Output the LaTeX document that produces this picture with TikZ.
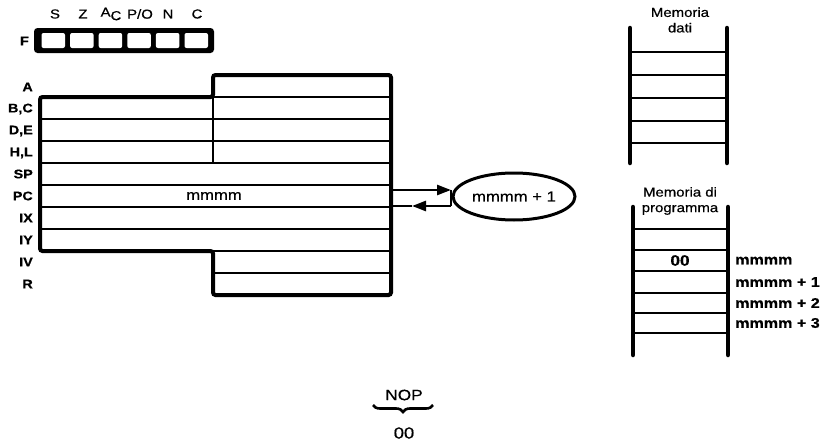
\documentclass[tikz,border=0pt]{standalone}
\usepackage{fontspec}
\setmainfont[FakeStretch=1.15,FakeBold=0.5]{Liberation Sans}
\usetikzlibrary{arrows.meta,decorations.pathreplacing,shapes.geometric}
\tikzset{
  lbl/.style={font=\fontsize{12.5}{14}\selectfont\bfseries, anchor=east, inner sep=0pt},
  txt/.style={font=\fontsize{13}{15.5}\selectfont, inner sep=0pt},
  mtxt/.style={font=\fontsize{14.5}{16}\selectfont, inner sep=0pt},
  mlbl/.style={font=\fontsize{14}{16}\selectfont\bfseries, anchor=west, inner sep=0pt},
  outerline/.style={line width=4pt, rounded corners=2.5pt},
  innerline/.style={line width=2.8pt},
  rail/.style={line width=4.5pt, line cap=round},
  rung/.style={line width=2.8pt},
  conn/.style={line width=2.6pt},
  tipr/.style={-{Triangle[length=14pt,width=10pt]}},
}
\begin{document}
\begin{tikzpicture}[x=1pt,y=-1pt]
\useasboundingbox (0,0) rectangle (828,447);

% ---- Flag register ----
\fill[rounded corners=3.5pt] (34,28) rectangle (214,53);
\foreach \k in {0,...,5} {
  \fill[white, rounded corners=2pt] (41.5+28.6*\k,33) rectangle (65+28.6*\k,48);
}
\node[txt] (fS) at (55,14) {S};
\node[txt] (fZ) at (83,14) {Z};
\node[txt] (fA) at (111,14) {A\raisebox{-3.5pt}{C}};
\node[txt] (fP) at (140,14) {P/O};
\node[txt] (fN) at (168,14) {N};
\node[txt] (fC) at (197,14) {C};
\node[lbl] (fF) at (29,41) {F};

% ---- Register block ----
\draw[outerline] (213,75) -- (391,75) -- (391,295) -- (213,295) -- (213,251)
   -- (40,251) -- (40,97) -- (213,97) -- cycle;
\draw[innerline] (213,97) -- (391,97);
\foreach \yy in {119,141,163,185,207,229} {
  \draw[innerline] (40,\yy) -- (391,\yy);
}
\draw[innerline] (213,251) -- (391,251);
\draw[innerline] (213,273) -- (391,273);
\draw[innerline] (213,97) -- (213,163);

\node[lbl] (rA)  at (33,87)  {A};
\node[lbl] (rBC) at (33,109) {B,C};
\node[lbl] (rDE) at (33,131) {D,E};
\node[lbl] (rHL) at (33,153) {H,L};
\node[lbl] (rSP) at (33,174) {SP};
\node[lbl] (rPC) at (33,196) {PC};
\node[lbl] (rIX) at (33,218) {IX};
\node[lbl] (rIY) at (33,240) {IY};
\node[lbl] (rIV) at (33,262) {IV};
\node[lbl] (rR)  at (33,284) {R};

\node[mtxt] (pcval) at (214,196) {mmmm};

% ---- Incrementer ----
\node[ellipse, draw, line width=3pt, minimum width=122pt, minimum height=47pt, mtxt]
  (inc) at (514,196.5) {mmmm + 1};

\coordinate (pcr1) at (391,190);
\coordinate (pcr2) at (391,206);
\coordinate (elj1) at (451,190);
\coordinate (elj2) at (451,206);
\coordinate (mid2) at (412,206);
\draw[conn, tipr] (pcr1) -- (elj1);
\draw[conn] (elj1) -- (elj2);
\draw[conn, tipr] (elj2) -- (mid2);
\draw[conn] (mid2) -- (pcr2);

% ---- Memoria dati ----
\node[txt, align=center] (mdt) at (680,20) {Memoria\\dati};
\draw[rail] (630,28) -- (630,163);
\draw[rail] (727,28) -- (727,163);
\foreach \yy in {52,75,98,121,143} {
  \draw[rung] (630,\yy) -- (727,\yy);
}

% ---- Memoria di programma ----
\node[txt, align=center] (mpt) at (680,201) {Memoria di\\programma};
\draw[rail] (633,207) -- (633,355);
\draw[rail] (728,207) -- (728,355);
\foreach \yy in {229,250,271,293,313,333} {
  \draw[rung] (633,\yy) -- (728,\yy);
}
\node[font=\fontsize{15}{17}\selectfont\bfseries, inner sep=0pt] (m00) at (680,260.5) {00};
\node[mlbl] (ml0) at (735,260.5) {mmmm};
\node[mlbl] (ml1) at (735,282) {mmmm + 1};
\node[mlbl] (ml2) at (735,303) {mmmm + 2};
\node[mlbl] (ml3) at (735,323) {mmmm + 3};

% ---- NOP ----
\node[font=\fontsize{15}{17}\selectfont, inner sep=0pt] (nop) at (404,395) {NOP};
\coordinate (brl) at (373,405);
\coordinate (brr) at (433,405);
\draw[line width=2.6pt, decorate, decoration={brace, mirror, amplitude=7pt}] (brl) -- (brr);
\node[font=\fontsize{16}{18}\selectfont, inner sep=0pt] (n00) at (404,433) {00};
\end{tikzpicture}
\end{document}
